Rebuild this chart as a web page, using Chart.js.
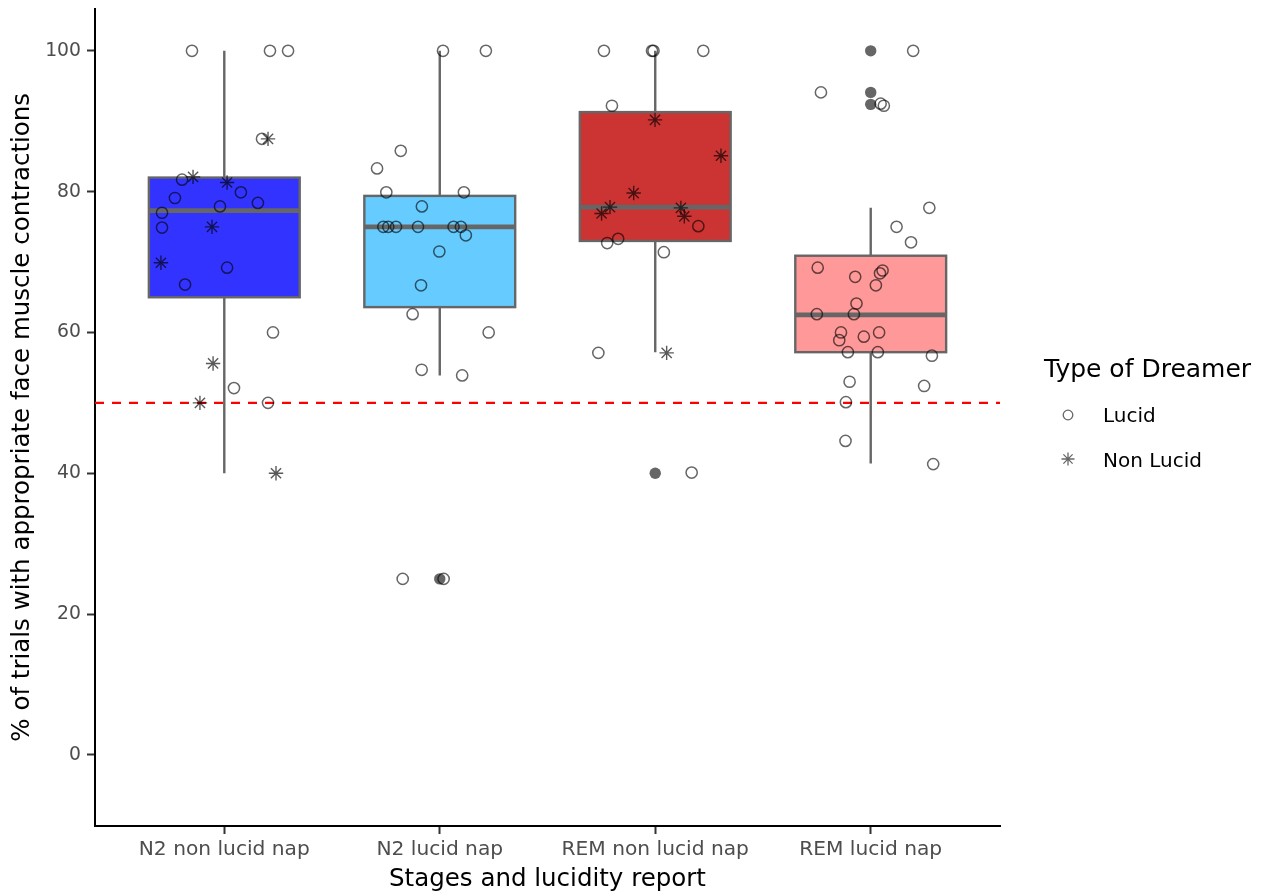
<!DOCTYPE html>
<html>
<head>
<meta charset="utf-8">
<script src="https://cdn.jsdelivr.net/npm/chart.js@4/dist/chart.umd.min.js"></script>
<style>
  html, body { margin: 0; padding: 0; background: #fff; }
  canvas { display: block; }
</style>
</head>
<body>
<canvas id="chart" width="1261" height="894"></canvas>
<script>
const categories = ["N2 non lucid nap", "N2 lucid nap", "REM non lucid nap", "REM lucid nap"];
const yTicks = [0, 20, 40, 60, 80, 100];

// box statistics per category
const whiskerLow = [40.0, 53.9, 57.2, 41.4];
const quartile1 = [65.0, 63.6, 73.0, 57.2];
const medians = [77.3, 75.0, 77.8, 62.5];
const quartile3 = [82.0, 79.4, 91.3, 70.9];
const whiskerHigh = [100, 100, 100, 77.7];
const boxColors = ["#3333FF", "#66CCFF", "#CC3333", "#FF9999"];

// outliers drawn by the boxplot
const outlierX = [2, 3, 4, 4, 4];
const outlierY = [25, 40, 100, 94.1, 92.4];

// jittered observations (x = category position + jitter)
const lucidX = [
  0.85, 1.212, 1.296, 1.175, 0.804, 1.077, 0.771, 1.156, 0.98, 0.711, 0.711, 1.013, 0.818, 1.226, 1.045, 1.203,
  2.015, 2.214, 1.819, 1.709, 1.752, 2.112, 1.917, 1.738, 1.761, 1.797, 1.899, 2.064, 2.098, 2.121, 1.998, 1.913, 1.874, 2.227, 1.916, 2.104, 1.828, 2.018,
  2.762, 2.985, 2.992, 3.223, 2.799, 3.2, 2.828, 2.777, 3.04, 2.736, 3.169,
  4.197, 3.769, 4.046, 4.061, 4.272, 4.12, 4.187, 3.754, 4.055, 4.043, 3.928, 4.024, 3.934, 3.75, 3.922, 3.862, 3.854, 3.968, 4.039, 3.894, 4.033, 4.284, 3.902, 4.248, 3.885, 3.883, 4.29
];
const lucidY = [
  100, 100, 100, 87.5, 81.7, 79.9, 79.1, 78.4, 77.9, 77.0, 74.9, 69.2, 66.8, 60.0, 52.1, 50.0,
  100, 100, 85.8, 83.3, 79.9, 79.9, 77.9, 75, 75, 75, 75, 75, 75, 73.8, 71.5, 66.7, 62.6, 60.0, 54.7, 53.9, 25, 25,
  100, 100, 100, 100, 92.2, 75.1, 73.3, 72.7, 71.4, 57.1, 40.1,
  100, 94.1, 92.5, 92.2, 77.7, 75.0, 72.8, 69.2, 68.8, 68.4, 67.9, 66.7, 64.1, 62.6, 62.6, 60.0, 58.9, 59.4, 60.0, 57.2, 57.2, 56.7, 53.0, 52.4, 50.1, 44.6, 41.3
];
const nonLucidX = [1.203, 0.855, 1.013, 0.943, 0.706, 0.948, 0.887, 1.24, 2.999, 3.305, 2.9, 2.79, 2.751, 3.119, 3.135, 3.053];
const nonLucidY = [87.5, 82.1, 81.3, 75.0, 69.9, 55.6, 50.0, 40.0, 90.2, 85.1, 79.8, 77.8, 76.9, 77.7, 76.5, 57.1];

const chanceLevel = 50;
const boxWidth = 0.7;

const toPoints = (xs, ys) => xs.map((x, i) => ({ x: x, y: ys[i] }));
const titleFont = { family: "DejaVu Sans", size: 24.5 };

const boxPlugin = {
  id: "boxes",
  beforeDatasetsDraw(chart) {
    const ctx = chart.ctx;
    const xs = chart.scales.x;
    const ys = chart.scales.y;
    ctx.save();
    categories.forEach((c, i) => {
      const cx = xs.getPixelForValue(i + 1);
      const left = xs.getPixelForValue(i + 1 - boxWidth / 2);
      const right = xs.getPixelForValue(i + 1 + boxWidth / 2);
      const top = ys.getPixelForValue(quartile3[i]);
      const bottom = ys.getPixelForValue(quartile1[i]);
      ctx.strokeStyle = "#666666";
      ctx.lineWidth = 2.4;
      ctx.beginPath();
      ctx.moveTo(cx, ys.getPixelForValue(whiskerHigh[i]));
      ctx.lineTo(cx, top);
      ctx.moveTo(cx, bottom);
      ctx.lineTo(cx, ys.getPixelForValue(whiskerLow[i]));
      ctx.stroke();
      ctx.fillStyle = boxColors[i];
      ctx.fillRect(left, top, right - left, bottom - top);
      ctx.strokeRect(left, top, right - left, bottom - top);
      const my = ys.getPixelForValue(medians[i]);
      ctx.lineWidth = 4.6;
      ctx.beginPath();
      ctx.moveTo(left, my);
      ctx.lineTo(right, my);
      ctx.stroke();
    });
    // chance level
    const hy = ys.getPixelForValue(chanceLevel);
    ctx.strokeStyle = "#FF0000";
    ctx.lineWidth = 2.2;
    ctx.setLineDash([9, 8]);
    ctx.beginPath();
    ctx.moveTo(chart.chartArea.left, hy);
    ctx.lineTo(chart.chartArea.right, hy);
    ctx.stroke();
    ctx.restore();
  }
};

const legendPlugin = {
  id: "dreamerLegend",
  afterDraw(chart) {
    const ctx = chart.ctx;
    ctx.save();
    ctx.fillStyle = "#000";
    ctx.textBaseline = "alphabetic";
    ctx.font = "25px 'DejaVu Sans'";
    ctx.fillText("Type of Dreamer", 1044, 377);
    ctx.font = "20px 'DejaVu Sans'";
    ctx.fillText("Lucid", 1103, 422);
    ctx.fillText("Non Lucid", 1103, 467);
    ctx.strokeStyle = "rgba(0,0,0,0.6)";
    ctx.fillStyle = "rgba(0,0,0,0)";
    ctx.lineWidth = 1.3;
    Chart.helpers.drawPoint(ctx, { pointStyle: "circle", radius: 4.8, borderWidth: 1.3 }, 1068, 415);
    Chart.helpers.drawPoint(ctx, { pointStyle: "star", radius: 6.5, borderWidth: 1.3 }, 1068, 459);
    ctx.restore();
  }
};

new Chart(document.getElementById("chart"), {
  type: "scatter",
  data: {
    datasets: [
      { label: "Outliers", data: toPoints(outlierX, outlierY), pointStyle: "circle", pointRadius: 5.7, backgroundColor: "#666666", borderWidth: 0, order: 3 },
      { label: "Lucid", data: toPoints(lucidX, lucidY), pointStyle: "circle", pointRadius: 5.6, backgroundColor: "rgba(0,0,0,0)", borderColor: "rgba(0,0,0,0.6)", borderWidth: 1.5, order: 2 },
      { label: "Non Lucid", data: toPoints(nonLucidX, nonLucidY), pointStyle: "star", pointRadius: 7.2, borderColor: "rgba(0,0,0,0.65)", borderWidth: 1.4, order: 1 }
    ]
  },
  options: {
    responsive: false,
    animation: false,
    layout: { padding: { top: 8, right: 261, left: 0, bottom: 0 } },
    plugins: { legend: { display: false }, tooltip: { enabled: false } },
    scales: {
      x: {
        type: "linear",
        min: 0.4,
        max: 4.6,
        afterBuildTicks: s => { s.ticks = categories.map((c, i) => ({ value: i + 1 })); },
        afterFit: s => { s.height = 68; s.paddingLeft = 0; s.paddingRight = 0; },
        ticks: { callback: v => categories[v - 1], font: { family: "DejaVu Sans", size: 20.2 }, color: "#4D4D4D", padding: 4, maxRotation: 0, autoSkip: false },
        grid: { drawOnChartArea: false, tickLength: 8, tickColor: "#333333", tickWidth: 2 },
        border: { color: "#000", width: 2 },
        title: { display: true, text: "Stages and lucidity report", font: titleFont, color: "#000", padding: { top: 0, bottom: 0 } }
      },
      y: {
        min: -10.1,
        max: 106,
        afterBuildTicks: s => { s.ticks = yTicks.map(v => ({ value: v })); },
        afterFit: s => { s.width = 95; s.paddingTop = 0; s.paddingBottom = 0; },
        ticks: { font: { family: "DejaVu Sans", size: 18.8 }, color: "#4D4D4D", padding: 6 },
        grid: { drawOnChartArea: false, tickLength: 8, tickColor: "#333333", tickWidth: 2 },
        border: { color: "#000", width: 2 },
        title: { display: true, text: "% of trials with appropriate face muscle contractions", font: titleFont, color: "#000", padding: { top: 8, bottom: 0 } }
      }
    }
  },
  plugins: [boxPlugin, legendPlugin]
});
</script>
</body>
</html>
